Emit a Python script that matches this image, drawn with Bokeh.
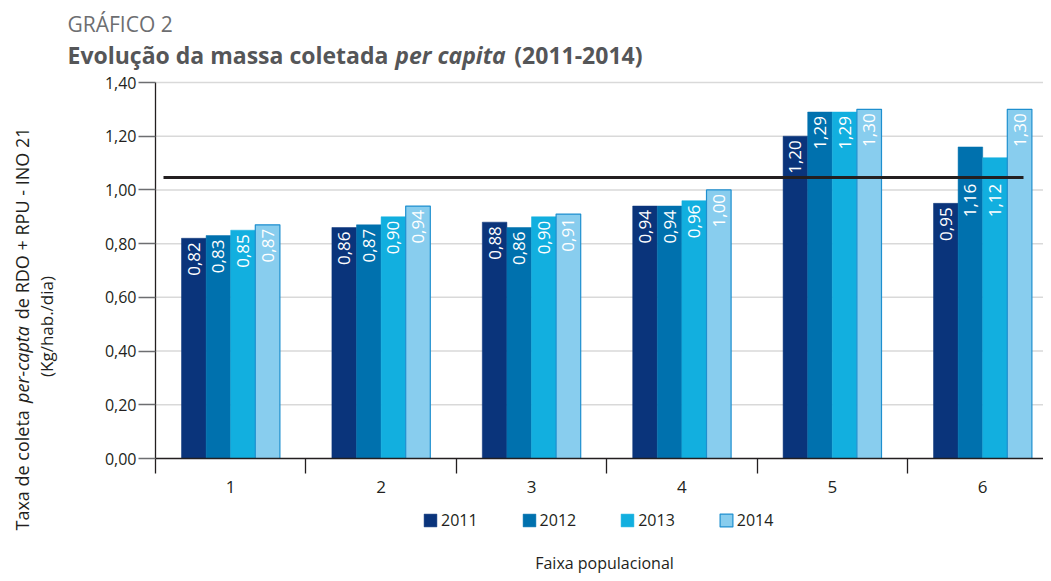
import math
from bokeh.plotting import figure
from bokeh.models import ColumnDataSource, FixedTicker, Label, Legend, LegendItem, Range1d
from bokeh.transform import dodge
from bokeh.core.properties import value
from bokeh.embed import file_html
from bokeh.resources import INLINE

# ---------------- data ----------------
categories = ["1", "2", "3", "4", "5", "6"]
years = ["2011", "2012", "2013", "2014"]
v2011 = [0.82, 0.86, 0.88, 0.94, 1.20, 0.95]
v2012 = [0.83, 0.87, 0.86, 0.94, 1.29, 1.16]
v2013 = [0.85, 0.90, 0.90, 0.96, 1.29, 1.12]
v2014 = [0.87, 0.94, 0.91, 1.00, 1.30, 1.30]
reference_value = 1.046
y_ticks = [0.0, 0.2, 0.4, 0.6, 0.8, 1.0, 1.2, 1.4]
y_tick_labels = ["0,00", "0,20", "0,40", "0,60", "0,80", "1,00", "1,20", "1,40"]

series = [v2011, v2012, v2013, v2014]
colors = ["#0a347b", "#0071ae", "#12afdf", "#88cdee"]
outlines = ["#0a347b", "#0071ae", "#12afdf", "#1e8fcf"]

# ---------------- geometry (picture pixels -> data) ----------------
W, H = 1043, 573
PAGE_X0, PAGE_Y0 = 155, 458       # pixel position of the value axis / zero line
PX_PER_CAT = 150.4
PX_PER_UNIT = 376 / 1.4

def xs(px):
    return 0.5 + (px - PAGE_X0) / PX_PER_CAT

def ys(py):
    return (PAGE_Y0 - py) / PX_PER_UNIT

FONT = "Open Sans"
TXT = "#231f20"

p = figure(width=W, height=H, output_backend="svg", toolbar_location=None,
           x_range=Range1d(xs(0), xs(W)), y_range=Range1d(ys(H), ys(0)),
           min_border_left=0, min_border_top=0, min_border_bottom=0, min_border_right=0)
p.title.visible = False
p.outline_line_color = None
p.background_fill_color = "white"
p.border_fill_color = "white"
p.xgrid.visible = False
p.ygrid.visible = False

x_end = xs(W)

# horizontal grid lines at the y ticks
p.segment(x0=0.5, x1=x_end, y0=y_ticks[1:], y1=y_ticks[1:], line_color="#d9d9d9", line_width=1.5)

xcat = [i + 1 for i in range(len(categories))]
data = dict(x=xcat)
bar_w = 24.6 / PX_PER_CAT
offsets = [(-1.5 + i) * bar_w for i in range(4)]

def fmt(v):
    return f"{v:.2f}".replace(".", ",")

text_len = 0.15
for yr, vals in zip(years, series):
    data[yr] = vals
    data[yr + "_lbl"] = [fmt(v) for v in vals]
    ly = []
    for v in vals:
        top = v
        if top - text_len < reference_value < top:
            top = reference_value - 0.008
        ly.append(top)
    data[yr + "_ly"] = ly
src = ColumnDataSource(data)

renderers = []
for i, yr in enumerate(years):
    r = p.vbar(x=dodge("x", offsets[i], range=p.x_range), top=yr, width=bar_w, source=src,
               fill_color=colors[i], line_color=outlines[i], line_width=1.2 if i == 3 else 0.5)
    renderers.append(r)

for i, yr in enumerate(years):
    p.text(x=dodge("x", offsets[i], range=p.x_range), y=yr + "_ly", text=yr + "_lbl", source=src,
           angle=math.pi / 2, text_align="right", text_baseline="middle", y_offset=4,
           text_color="white", text_font=value(FONT), text_font_size="17px")

# reference line
p.line(x=[xs(163), xs(1023)], y=[reference_value, reference_value], line_color="#231f20", line_width=3)

# axes, pinned at x=0.5 / y=0
p.yaxis.fixed_location = 0.5
p.yaxis.bounds = (0, 1.4)
p.yaxis.ticker = FixedTicker(ticks=y_ticks)
p.yaxis.major_label_overrides = dict(zip(y_ticks, y_tick_labels))
p.yaxis.axis_line_color = "#231f20"
p.yaxis.axis_line_width = 1.3
p.yaxis.major_tick_line_color = "#6d6e71"
p.yaxis.major_tick_line_width = 1.3
p.yaxis.major_tick_out = 17
p.yaxis.major_tick_in = 0
p.yaxis.minor_tick_line_color = None
p.yaxis.major_label_standoff = 2
p.yaxis.major_label_text_font = FONT
p.yaxis.major_label_text_font_size = "16px"
p.yaxis.major_label_text_color = TXT

p.xaxis.fixed_location = 0
p.xaxis.bounds = (0.5, x_end)
p.xaxis.ticker = FixedTicker(ticks=xcat, minor_ticks=[c - 0.5 for c in xcat] + [xcat[-1] + 0.5])
p.xaxis.major_label_overrides = dict(zip(xcat, categories))
p.xaxis.axis_line_color = "#231f20"
p.xaxis.axis_line_width = 1.5
p.xaxis.major_tick_line_color = None
p.xaxis.major_tick_out = 0
p.xaxis.major_tick_in = 0
p.xaxis.minor_tick_line_color = "#231f20"
p.xaxis.minor_tick_line_width = 1.3
p.xaxis.minor_tick_out = 15
p.xaxis.minor_tick_in = 0
p.xaxis.major_label_standoff = 7
p.xaxis.major_label_text_font = FONT
p.xaxis.major_label_text_font_size = "17px"
p.xaxis.major_label_text_color = TXT

# legend
legend = Legend(items=[LegendItem(label=yr, renderers=[r]) for yr, r in zip(years, renderers)],
                orientation="horizontal", location=(422, H - 531),
                glyph_width=16, glyph_height=16, label_standoff=3, spacing=43,
                label_text_font=FONT, label_text_font_size="16px", label_text_color=TXT,
                border_line_color=None, background_fill_alpha=0, padding=5, margin=0)
p.add_layout(legend)

# titles
TITLE_C = "#555658"
p.add_layout(Label(x=xs(67), y=ys(23), text="GRÁFICO 2", text_font=FONT, text_font_size="21px",
                   text_color="#6d6e71", text_baseline="alphabetic"))
p.add_layout(Label(x=xs(67), y=ys(54), text="Evolução da massa coletada", text_font=FONT,
                   text_font_size="23px", text_font_style="bold", text_color=TITLE_C,
                   text_baseline="alphabetic"))
p.add_layout(Label(x=xs(450), y=ys(54), text="per capita", text_font=FONT,
                   text_font_size="23px", text_font_style="bold italic", text_color=TITLE_C,
                   text_baseline="alphabetic", text_align="center"))
p.add_layout(Label(x=xs(642), y=ys(54), text="(2011-2014)", text_font=FONT,
                   text_font_size="23px", text_font_style="bold", text_color=TITLE_C,
                   text_baseline="alphabetic", text_align="right"))

# value-axis title (two lines, rotated)
ang = math.pi / 2
YL = "18px"
p.add_layout(Label(x=xs(21), y=ys(530), text="Taxa de coleta", angle=ang, text_font=FONT,
                   text_font_size=YL, text_color=TXT, text_baseline="middle", text_align="left"))
p.add_layout(Label(x=xs(21), y=ys(364), text="per-capta", angle=ang, text_font=FONT,
                   text_font_size=YL, text_font_style="italic", text_color=TXT,
                   text_baseline="middle", text_align="center"))
p.add_layout(Label(x=xs(21), y=ys(127), text="de RDO + RPU - INO 21", angle=ang, text_font=FONT,
                   text_font_size=YL, text_color=TXT, text_baseline="middle", text_align="right"))
p.add_layout(Label(x=xs(46), y=ys(326), text="(Kg/hab./dia)", angle=ang, text_font=FONT,
                   text_font_size="17px", text_color=TXT, text_baseline="middle", text_align="center"))

# category-axis title
p.add_layout(Label(x=xs(604), y=ys(562), text="Faixa populacional", text_font=FONT,
                   text_font_size="16px", text_color=TXT, text_baseline="middle", text_align="center"))

open("out.html", "w").write(file_html(p, INLINE))
